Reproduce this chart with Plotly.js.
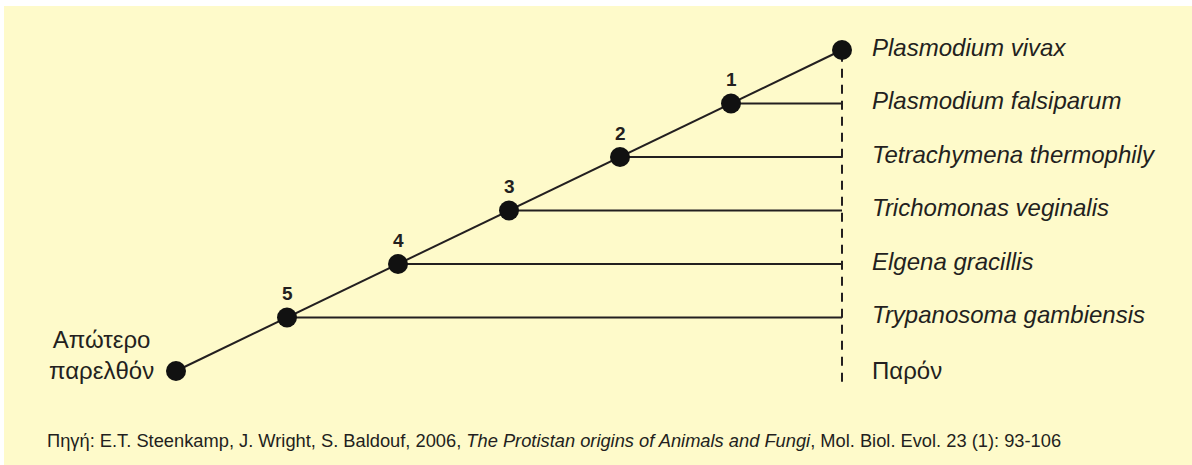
<!DOCTYPE html>
<html>
<head>
<meta charset="utf-8">
<script src="https://cdn.plot.ly/plotly-3.0.1.min.js"></script>
<style>
html,body{margin:0;padding:0;background:#ffffff;}
#chart{width:1192px;height:465px;}
</style>
</head>
<body>
<div id="chart"></div>
<script>
// Time steps along the ancestral line (0 = distant past, 6 = present)
const time = [0, 1, 2, 3, 4, 5, 6];
// Level of each node on the ancestral line
const level = [0, 1, 2, 3, 4, 5, 6];
// Divergence node numbers (at time 1..5)
const nodeNumbers = ['5', '4', '3', '2', '1'];
const nodeTimes = [1, 2, 3, 4, 5];
// Taxa, from top (level 6) to bottom (level 1)
const taxa = ['Plasmodium vivax', 'Plasmodium falsiparum', 'Tetrachymena thermophily',
              'Trichomonas veginalis', 'Elgena gracillis', 'Trypanosoma gambiensis'];
const taxaLevels = [6, 5, 4, 3, 2, 1];
const presentLabel = 'Παρόν';
const pastLabel = 'Απώτερο<br>παρελθόν';
const presentTime = 6;
const presentRange = [-0.2, 6];
const sourceText = 'Πηγή: E.T. Steenkamp, J. Wright, S. Baldouf, 2006, <i>The Protistan origins of Animals and Fungi</i>, Mol. Biol. Evol. 23 (1): 93-106';

const ink = '#231F20';
const font = '"Liberation Sans", Arial, sans-serif';

const traces = [];
// Dashed "present" line
traces.push({x: [presentTime, presentTime], y: presentRange, mode: 'lines',
  line: {color: ink, width: 2, dash: '9px,7px'}, hoverinfo: 'skip', showlegend: false});
// Branches from each divergence node to the present
nodeTimes.forEach(function(t){
  traces.push({x: [t, presentTime], y: [level[t], level[t]], mode: 'lines',
    line: {color: ink, width: 2}, hoverinfo: 'skip', showlegend: false});
});
// Main ancestral line with nodes
traces.push({x: time, y: level, mode: 'lines+markers',
  line: {color: ink, width: 2},
  marker: {color: '#111111', size: 20},
  hoverinfo: 'skip', showlegend: false});

const annotations = [];
nodeTimes.forEach(function(t, i){
  annotations.push({x: t, y: level[t], xref: 'x', yref: 'y', text: '<b>' + nodeNumbers[i] + '</b>',
    showarrow: false, yshift: 24, xanchor: 'center', yanchor: 'middle',
    font: {family: font, size: 19, color: ink}});
});
taxa.forEach(function(name, i){
  annotations.push({x: presentTime, y: taxaLevels[i], xref: 'x', yref: 'y', text: '<i>' + name + '</i>',
    showarrow: false, xshift: 28, yshift: 3, xanchor: 'left', yanchor: 'middle',
    font: {family: font, size: 24, color: ink}});
});
annotations.push({x: presentTime, y: 0, xref: 'x', yref: 'y', text: presentLabel,
  showarrow: false, xshift: 28, yshift: 1, xanchor: 'left', yanchor: 'middle',
  font: {family: font, size: 24, color: ink}});
annotations.push({x: 0, y: 0, xref: 'x', yref: 'y', text: pastLabel,
  showarrow: false, xshift: -75, yshift: 16, xanchor: 'center', yanchor: 'middle', align: 'center',
  font: {family: font, size: 24, color: ink}});
annotations.push({x: 45/1192, y: 1 - 440/465, xref: 'paper', yref: 'paper', text: sourceText,
  showarrow: false, xanchor: 'left', yanchor: 'middle',
  font: {family: font, size: 18.3, color: ink}});

const pxPerX = 111, pxPerY = 53.5;
const x0 = -176/pxPerX, y0 = -(465-371)/pxPerY;

const layout = {
  width: 1192, height: 465,
  margin: {l: 0, r: 0, t: 0, b: 0, pad: 0},
  paper_bgcolor: '#ffffff',
  plot_bgcolor: 'rgba(0,0,0,0)',
  xaxis: {range: [x0, x0 + 1192/pxPerX], visible: false, fixedrange: true},
  yaxis: {range: [y0, y0 + 465/pxPerY], visible: false, fixedrange: true},
  shapes: [{type: 'rect', xref: 'paper', yref: 'paper', x0: 4/1192, x1: 1, y0: 0, y1: 1 - 6/465,
    fillcolor: '#FEFACA', line: {width: 0}, layer: 'below'}],
  annotations: annotations,
  showlegend: false
};

Plotly.newPlot('chart', traces, layout, {displayModeBar: false, staticPlot: true});
</script>
</body>
</html>
